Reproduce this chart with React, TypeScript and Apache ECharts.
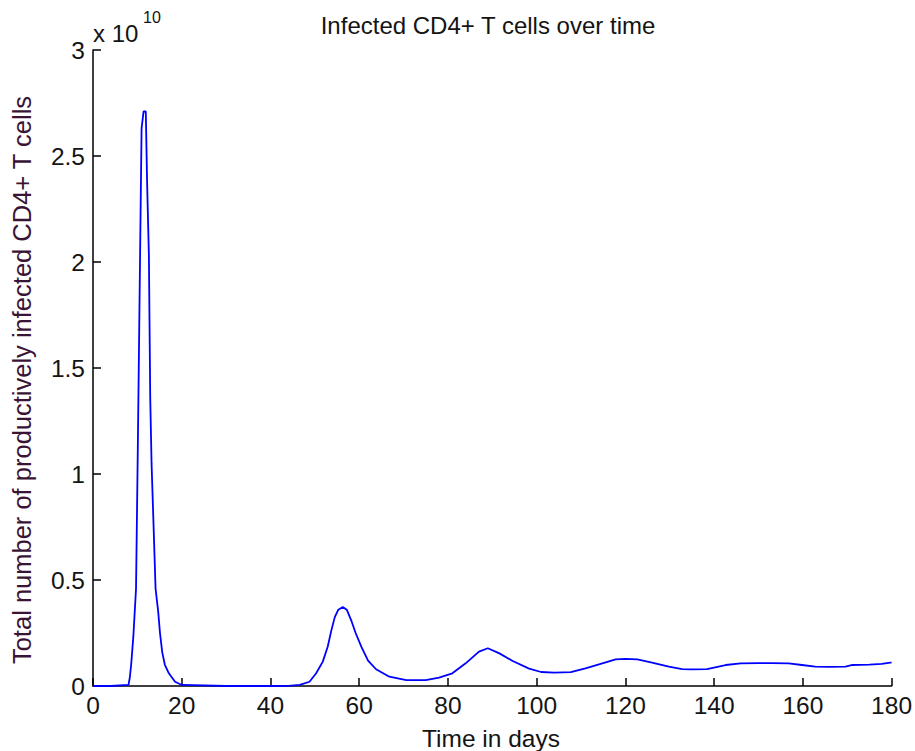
import React, { useEffect, useRef } from "react";
import * as echarts from "echarts";

// Time in days
const days = [
  0, 4, 8, 8.3, 8.6, 9.1, 9.7, 10.1, 10.6, 10.95, 11.4, 11.9, 12.2, 12.6, 12.9,
  13.2, 13.6, 14.1, 14.7, 15.1, 15.6, 16.2, 17.1, 18.5, 20, 30, 40, 44, 46.6,
  48.8, 50.3, 51.8, 52.9, 53.7, 54.5, 55.3, 56.3, 57.2, 58.2, 59.2, 60.5, 62,
  63.8, 66.8, 70.6, 75, 78, 81, 84, 87, 89, 91.6, 94.6, 98.3, 101, 104, 107.7,
  111, 114.8, 117.8, 120, 122.7, 126, 129.8, 132.8, 135, 138.4, 142.6, 146, 150,
  153, 156.8, 159.8, 162.8, 166, 169.6, 171, 175, 177.8, 179.7, 180,
];

// Total number of productively infected CD4+ T cells (x 10^10)
const infected = [
  0, 0, 0.005, 0.04, 0.1, 0.235, 0.46, 1.12, 2.01, 2.63, 2.71, 2.71, 2.37, 2.03,
  1.36, 1.05, 0.79, 0.46, 0.35, 0.25, 0.16, 0.1, 0.06, 0.02, 0.005, 0, 0, 0.001,
  0.005, 0.02, 0.06, 0.115, 0.185, 0.26, 0.325, 0.36, 0.373, 0.36, 0.31, 0.25,
  0.185, 0.12, 0.079, 0.044, 0.028, 0.028, 0.04, 0.06, 0.107, 0.162, 0.178,
  0.154, 0.118, 0.082, 0.066, 0.063, 0.065, 0.083, 0.107, 0.126, 0.128, 0.126,
  0.11, 0.091, 0.08, 0.078, 0.08, 0.099, 0.107, 0.108, 0.108, 0.107, 0.099,
  0.091, 0.09, 0.091, 0.099, 0.101, 0.104, 0.11, 0.11,
];

const xTicks = { min: 0, max: 180, interval: 20 };
const yTicks = { min: 0, max: 3, interval: 0.5 };

const titleText = "Infected CD4+ T cells over time";
const xLabelText = "Time in days";
const yLabelText = "Total number of productively infected CD4+ T cells";
const multiplierText = "x 10";
const exponentText = "10";

const FONT = "'Liberation Sans', Arial, Helvetica, sans-serif";
const TEXT = "#141414";

export default function App() {
  const ref = useRef<HTMLDivElement>(null);
  useEffect(() => {
    if (!ref.current) return;
    const chart = echarts.init(ref.current, undefined, { renderer: "svg" });
    const data = days.map((d, i) => [d, infected[i]]);
    chart.setOption({
      animation: false,
      backgroundColor: "#ffffff",
      grid: { left: 93, right: 22, top: 50, bottom: 65, containLabel: false },
      xAxis: {
        type: "value",
        min: xTicks.min,
        max: xTicks.max,
        interval: xTicks.interval,
        axisLine: { show: true, onZero: false, lineStyle: { color: "#000", width: 1.5 } },
        axisTick: { show: true, inside: true, length: 8, lineStyle: { color: "#000", width: 1.5 } },
        axisLabel: { margin: 7, color: TEXT, fontSize: 24.5, fontFamily: FONT },
        splitLine: { show: false },
      },
      yAxis: {
        type: "value",
        min: yTicks.min,
        max: yTicks.max,
        interval: yTicks.interval,
        axisLine: { show: true, onZero: false, lineStyle: { color: "#000", width: 1.5 } },
        axisTick: { show: true, inside: true, length: 8, lineStyle: { color: "#000", width: 1.5 } },
        axisLabel: { margin: 8, color: TEXT, fontSize: 24.5, fontFamily: FONT },
        splitLine: { show: false },
      },
      series: [
        {
          type: "line",
          data,
          showSymbol: false,
          symbol: "none",
          lineStyle: { color: "#0000ff", width: 1.8 },
        },
      ],
      graphic: [
        {
          type: "text",
          x: 488,
          y: 25,
          style: {
            text: titleText,
            fill: TEXT,
            font: `24px ${FONT}`,
            align: "center",
            verticalAlign: "middle",
          },
        },
        {
          type: "text",
          x: 491,
          y: 738,
          style: {
            text: xLabelText,
            fill: TEXT,
            font: `24.5px ${FONT}`,
            align: "center",
            verticalAlign: "middle",
          },
        },
        {
          type: "text",
          x: 22,
          y: 380,
          rotation: Math.PI / 2,
          style: {
            text: yLabelText,
            fill: "#3a1435",
            font: `25.5px ${FONT}`,
            align: "center",
            verticalAlign: "middle",
          },
        },
        {
          type: "text",
          x: 93,
          y: 33,
          style: {
            text: multiplierText,
            fill: TEXT,
            font: `24px ${FONT}`,
            align: "left",
            verticalAlign: "middle",
          },
        },
        {
          type: "text",
          x: 143,
          y: 17,
          style: {
            text: exponentText,
            fill: TEXT,
            font: `16px ${FONT}`,
            align: "left",
            verticalAlign: "middle",
          },
        },
      ],
    });
    return () => chart.dispose();
  }, []);
  return <div ref={ref} style={{ width: 915, height: 751, position: "absolute", left: 0, top: 0 }} />;
}
